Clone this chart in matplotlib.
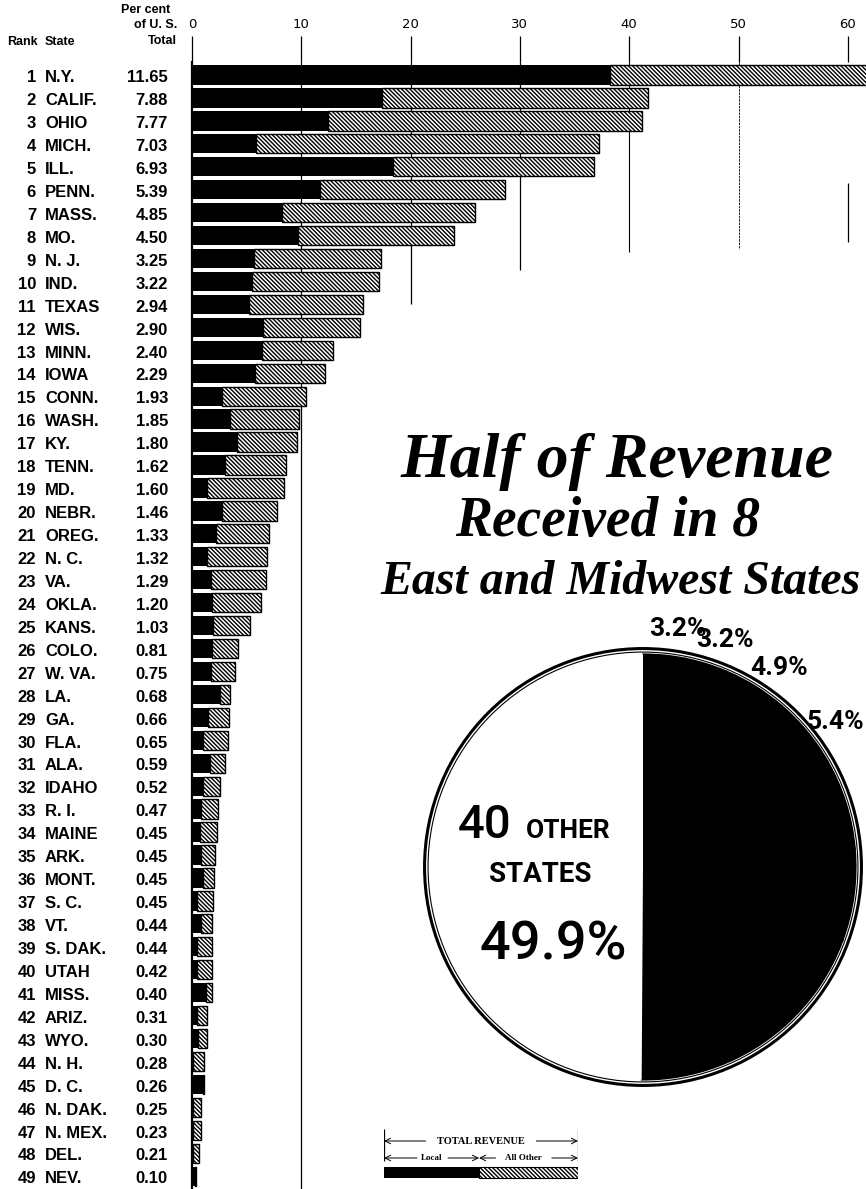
import matplotlib
matplotlib.use('Agg')
import matplotlib.pyplot as plt
from matplotlib.patches import Circle
from matplotlib.transforms import blended_transform_factory
import numpy as np

# --- data ---
states = ['N.Y.', 'CALIF.', 'OHIO', 'MICH.', 'ILL.', 'PENN.', 'MASS.', 'MO.', 'N. J.', 'IND.',
          'TEXAS', 'WIS.', 'MINN.', 'IOWA', 'CONN.', 'WASH.', 'KY.', 'TENN.', 'MD.', 'NEBR.',
          'OREG.', 'N. C.', 'VA.', 'OKLA.', 'KANS.', 'COLO.', 'W. VA.', 'LA.', 'GA.', 'FLA.',
          'ALA.', 'IDAHO', 'R. I.', 'MAINE', 'ARK.', 'MONT.', 'S. C.', 'VT.', 'S. DAK.', 'UTAH',
          'MISS.', 'ARIZ.', 'WYO.', 'N. H.', 'D. C.', 'N. DAK.', 'N. MEX.', 'DEL.', 'NEV.']
pct_of_total = ['11.65', '7.88', '7.77', '7.03', '6.93', '5.39', '4.85', '4.50', '3.25', '3.22',
                '2.94', '2.90', '2.40', '2.29', '1.93', '1.85', '1.80', '1.62', '1.60', '1.46',
                '1.33', '1.32', '1.29', '1.20', '1.03', '0.81', '0.75', '0.68', '0.66', '0.65',
                '0.59', '0.52', '0.47', '0.45', '0.45', '0.45', '0.45', '0.44', '0.44', '0.42',
                '0.40', '0.31', '0.30', '0.28', '0.26', '0.25', '0.23', '0.21', '0.10']
local = [38.2, 17.4, 12.4, 5.9, 18.4, 11.7, 8.2, 9.7, 5.7, 5.5,
         5.2, 6.5, 6.4, 5.8, 2.7, 3.5, 4.1, 3.0, 1.4, 2.75,
         2.2, 1.35, 1.75, 1.8, 1.9, 1.8, 1.75, 2.6, 1.5, 1.0,
         1.65, 0.98, 0.8, 0.73, 0.8, 0.98, 0.43, 0.8, 0.49, 0.49,
         1.28, 0.49, 0.52, 0.12, 1.05, 0.12, 0.06, 0.06, 0.28]
total = [64.0, 41.7, 41.2, 37.2, 36.8, 28.6, 25.9, 24.0, 17.3, 17.1,
         15.6, 15.4, 12.9, 12.2, 10.4, 9.8, 9.6, 8.6, 8.4, 7.8,
         7.0, 6.9, 6.8, 6.3, 5.35, 4.2, 3.9, 3.5, 3.4, 3.3,
         3.0, 2.6, 2.35, 2.26, 2.1, 2.0, 1.96, 1.87, 1.87, 1.8,
         1.8, 1.4, 1.35, 1.1, 1.1, 0.86, 0.86, 0.67, 0.35]
x_ticks = [0, 10, 20, 30, 40, 50, 60]

# pie: the 8 states clockwise from the top, then the rest
# (only the first four labels fall inside the picture)
pie_values = [3.2, 3.2, 4.9, 5.4, 6.9, 7.0, 7.8, 11.7, 49.9]
pie_labels = ['3.2%', '3.2%', '4.9%', '5.4%', '', '', '', '', '']

W, H = 866, 1189
HATCH = '\\\\\\\\\\\\\\\\'
TABLE_FONT = ['Liberation Sans', 'DejaVu Sans']

fig = plt.figure(figsize=(W / 100, H / 100), dpi=100)
fig.patch.set_facecolor('white')

# main bar axes (pixel layout: x=0 at 192px, top of axes at 62px)
ax = fig.add_axes([192 / W, 0, 1 - 192 / W, 1 - 62 / H])
ranks = np.arange(1, len(states) + 1)
others = np.array(total) - np.array(local)

ax.barh(ranks, local, height=0.84, color='black', zorder=3)
ax.barh(ranks, others, left=local, height=0.84, facecolor='white', edgecolor='black',
        linewidth=1.0, hatch=HATCH, zorder=3)

ax.set_xlim(0, (W - 192) / 10.93)
ax.set_ylim(49.56, 0.433)

# vertical rules of different lengths
ax.vlines(10, 0.433, 49.56, color='black', lw=0.9, zorder=1)
ax.vlines(20, 0.433, 11.0, color='black', lw=0.9, zorder=1)
ax.vlines(30, 0.433, 9.5, color='black', lw=0.9, zorder=1)
ax.vlines(40, 0.433, 8.7, color='black', lw=0.8, zorder=1)
ax.vlines(50, 0.433, 8.6, color='black', lw=0.6, linestyle=(0, (3, 1)), zorder=1)
ax.vlines(60, 5.7, 8.3, color='black', lw=0.9, zorder=1)

ax.xaxis.tick_top()
ax.set_xticks(x_ticks)
ax.set_xticklabels([str(t) for t in x_ticks], family=['Liberation Sans Narrow', 'DejaVu Sans'],
                   fontsize=9.5)
ax.tick_params(axis='x', length=19, width=0.9, pad=3, direction='out')
ax.set_yticks([])
for side in ['top', 'right', 'bottom']:
    ax.spines[side].set_visible(False)
ax.spines['left'].set_linewidth(1.6)

# table on the left
tr = blended_transform_factory(fig.transFigure, ax.transData)
for r, st, p in zip(ranks, states, pct_of_total):
    y = r + 0.12
    ax.text(36 / W, y, str(r), transform=tr, ha='right', va='center', fontsize=12,
            fontweight='bold', family=TABLE_FONT, clip_on=False)
    ax.text(45 / W, y, st, transform=tr, ha='left', va='center', fontsize=12,
            fontweight='bold', family=TABLE_FONT, clip_on=False)
    ax.text(168 / W, y, p, transform=tr, ha='right', va='center', fontsize=12,
            fontweight='bold', family=TABLE_FONT, clip_on=False)

# column headers
fig.text(38 / W, 1 - 42 / H, 'Rank', ha='right', va='center', fontsize=9,
         fontweight='bold', family=TABLE_FONT)
fig.text(45 / W, 1 - 42 / H, 'State', ha='left', va='center', fontsize=9,
         fontweight='bold', family=TABLE_FONT)
fig.text(170 / W, 1 - 10 / H, 'Per cent', ha='right', va='center', fontsize=9,
         fontweight='bold', family=TABLE_FONT)
fig.text(177 / W, 1 - 25 / H, 'of U. S.', ha='right', va='center', fontsize=9,
         fontweight='bold', family=TABLE_FONT)
fig.text(177 / W, 1 - 41 / H, 'Total', ha='right', va='center', fontsize=9,
         fontweight='bold', family=TABLE_FONT)

# title
TITLE_FONT = ['Liberation Serif', 'DejaVu Serif']
fig.text(617 / W, 1 - 462 / H, 'Half of Revenue', ha='center', va='center', fontsize=46,
         style='italic', fontweight='bold', family=TITLE_FONT)
fig.text(608 / W, 1 - 522 / H, 'Received in 8', ha='center', va='center', fontsize=40,
         style='italic', fontweight='bold', family=TITLE_FONT)
fig.text(620 / W, 1 - 582 / H, 'East and Midwest States', ha='center', va='center',
         fontsize=34.5, style='italic', fontweight='bold', family=TITLE_FONT)

# pie (centre 643,867 px, radius 228 px)
cx, cy, R = 643, 867, 228
span = 1.2 * R
pax = fig.add_axes([(cx - span) / W, (H - cy - span) / H, 2 * span / W, 2 * span / H])
pax.set_xlim(-1.2, 1.2)
pax.set_ylim(-1.2, 1.2)
pax.set_aspect('equal')
pax.axis('off')
colors = ['black'] * 8 + ['white']
wedges, _ = pax.pie(pie_values, colors=colors, startangle=90, counterclock=False,
                    radius=0.972, wedgeprops=dict(linewidth=0))
for w in wedges[:8]:
    w.set_edgecolor('black')
    w.set_linewidth(1.2)
pax.add_patch(Circle((0, 0), 0.982, fill=False, edgecolor='black', lw=0.8))
pax.add_patch(Circle((0, 0), 0.998, fill=False, edgecolor='black', lw=2.2))
for w, lab in zip(wedges, pie_labels):
    if not lab:
        continue
    ang = np.deg2rad((w.theta1 + w.theta2) / 2 - 2.5)
    pax.text(1.1 * np.cos(ang), 1.1 * np.sin(ang), lab, ha='center', va='center',
             fontsize=19, fontweight='bold', family=['Roboto', 'DejaVu Sans'], clip_on=False)

PIE_FONT = ['Roboto', 'DejaVu Sans']
fig.text(458 / W, 1 - 838 / H, '40', ha='left', va='baseline', fontsize=34,
         family=PIE_FONT, fontweight='medium')
fig.text(526 / W, 1 - 838 / H, 'OTHER', ha='left', va='baseline', fontsize=19,
         family=PIE_FONT, fontweight='bold')
fig.text(540 / W, 1 - 882 / H, 'STATES', ha='center', va='baseline', fontsize=20,
         family=PIE_FONT, fontweight='bold')
fig.text(553 / W, 1 - 960 / H, '49.9%', ha='center', va='baseline', fontsize=39,
         family=PIE_FONT, fontweight='medium')

# key at the bottom
lax = fig.add_axes([384 / W, 1 - 1185 / H, 194 / W, 60 / H])
lax.set_xlim(0, 1)
lax.set_ylim(0, 3)
lax.axis('off')
lax.barh(0.62, 0.49, height=0.55, color='black')
lax.barh(0.62, 0.51, left=0.49, height=0.55, facecolor='white', edgecolor='black',
         lw=0.8, hatch=HATCH)
lax.vlines([0, 1], 1.2, 2.8, color='black', lw=0.9)
arrow = dict(arrowstyle='->', lw=0.7, color='black', shrinkA=0, shrinkB=0)
KEY_FONT = ['Liberation Serif', 'DejaVu Serif']
lax.text(0.5, 2.2, 'TOTAL REVENUE', ha='center', va='center', fontsize=7.5,
         fontweight='bold', family=KEY_FONT)
lax.annotate('', xy=(0, 2.2), xytext=(0.215, 2.2), arrowprops=arrow)
lax.annotate('', xy=(1, 2.2), xytext=(0.785, 2.2), arrowprops=arrow)
lax.text(0.245, 1.35, 'Local', ha='center', va='center', fontsize=6.5,
         fontweight='bold', family=KEY_FONT)
lax.text(0.72, 1.35, 'All Other', ha='center', va='center', fontsize=6.5,
         fontweight='bold', family=KEY_FONT)
lax.annotate('', xy=(0, 1.35), xytext=(0.17, 1.35), arrowprops=arrow)
lax.annotate('', xy=(0.49, 1.35), xytext=(0.33, 1.35), arrowprops=arrow)
lax.annotate('', xy=(0.49, 1.35), xytext=(0.575, 1.35), arrowprops=arrow)
lax.annotate('', xy=(1, 1.35), xytext=(0.865, 1.35), arrowprops=arrow)

fig.savefig('out.png', dpi=100, facecolor='white')
